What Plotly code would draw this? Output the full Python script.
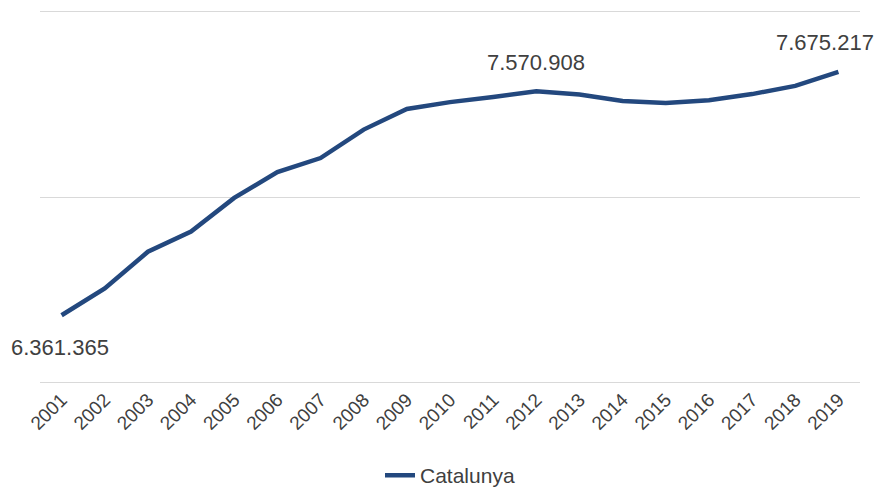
import plotly.graph_objects as go

years = [str(y) for y in range(2001, 2020)]
population = [6361365, 6506440, 6704146, 6813319, 6995206, 7134697, 7210508, 7364078,
              7475420, 7512381, 7539618, 7570908, 7553650, 7518903, 7508106, 7522596,
              7555830, 7600065, 7675217]
label_years = ["2001", "2012", "2019"]
label_texts = ["6.361.365", "7.570.908", "7.675.217"]

idx = list(range(len(years)))
fig = go.Figure()
fig.add_trace(go.Scatter(x=idx, y=population, mode="lines", name="Catalunya",
                         line=dict(color="#23487e", width=4.5)))

offsets = {"2001": (-2, -32), "2012": (0, 29), "2019": (-13, 29)}
for yr, txt in zip(label_years, label_texts):
    i = years.index(yr)
    dx, dy = offsets[yr]
    fig.add_annotation(x=i, y=population[i], text=txt, showarrow=False,
                       xshift=dx, yshift=dy,
                       font=dict(size=22, color="#404040", family="Liberation Sans"))

fig.update_layout(
    width=880, height=492,
    margin=dict(l=40, r=20, t=10, b=108, autoexpand=False),
    paper_bgcolor="white", plot_bgcolor="white",
    font=dict(family="Liberation Sans", color="#404040", size=19),
    showlegend=True,
    legend=dict(orientation="h", x=0.5, xanchor="center", y=-0.245, yanchor="middle",
                font=dict(size=21, color="#404040"), bgcolor="rgba(0,0,0,0)"),
    xaxis=dict(tickmode="array", tickvals=idx, ticktext=years, range=[-0.5, 18.5],
               tickangle=-45, showgrid=False, zeroline=False, showline=False,
               ticks="", automargin=False, tickfont=dict(size=19, color="#404040")),
    yaxis=dict(range=[5990000, 8010000], tickvals=[6000000, 7000000, 8000000],
               showticklabels=False, showgrid=True, gridcolor="#d9d9d9", gridwidth=1.3,
               zeroline=False, showline=False, automargin=False),
)
fig.write_html("out.html", config={"displayModeBar": False},
               post_script="document.body.style.margin='0';document.body.style.overflow='hidden';")
